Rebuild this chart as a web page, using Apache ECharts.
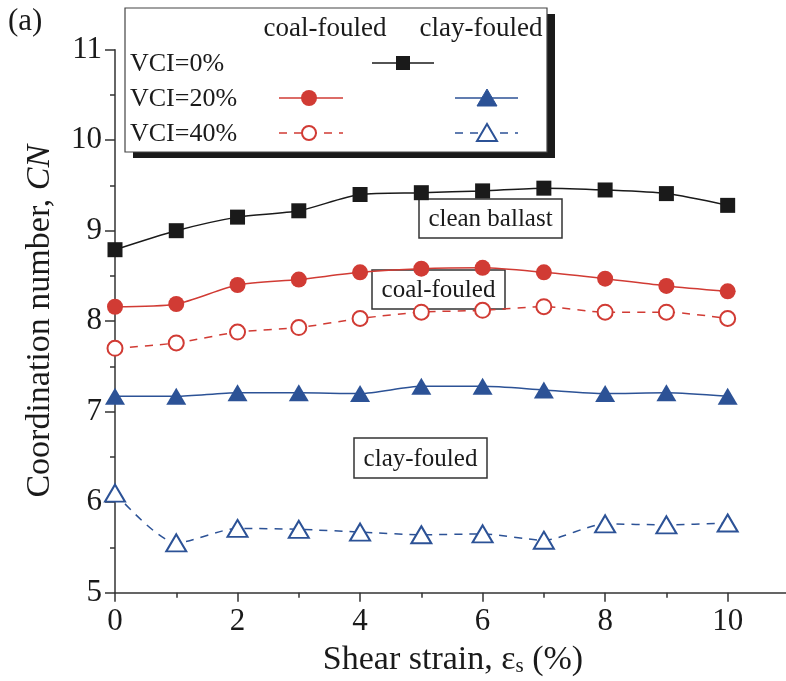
<!DOCTYPE html>
<html>
<head>
<meta charset="utf-8">
<script src="https://cdn.jsdelivr.net/npm/echarts@6/dist/echarts.min.js"></script>
<style>
  html, body { margin: 0; padding: 0; background: #fff; }
  #chart { width: 786px; height: 681px; }
</style>
</head>
<body>
<div id="chart"></div>
<script>
// Shear strain (%) at which coordination number was sampled
const strain = [0, 1, 2, 3, 4, 5, 6, 7, 8, 9, 10];

// Coordination number, CN
const cleanBallast = [8.79, 9.00, 9.15, 9.22, 9.40, 9.42, 9.44, 9.47, 9.45, 9.41, 9.28];
const coalVci20   = [8.16, 8.19, 8.40, 8.46, 8.54, 8.58, 8.59, 8.54, 8.47, 8.39, 8.33];
const coalVci40   = [7.70, 7.76, 7.88, 7.93, 8.03, 8.10, 8.12, 8.16, 8.10, 8.10, 8.03];
const clayVci20   = [7.17, 7.17, 7.21, 7.21, 7.20, 7.28, 7.28, 7.24, 7.20, 7.21, 7.17];
const clayVci40   = [6.10, 5.55, 5.71, 5.70, 5.67, 5.64, 5.65, 5.58, 5.76, 5.75, 5.77];

// Legend / annotation texts
const columnHeads = ['coal-fouled', 'clay-fouled'];
const rowLabels = ['VCI=0%', 'VCI=20%', 'VCI=40%'];
const boxLabels = ['clean ballast', 'coal-fouled', 'clay-fouled'];

const SERIF = '"Liberation Serif", "Times New Roman", serif';
const INK = '#1a1a1a';
const AXIS = '#333';
const RED = '#d13b34';
const BLUE = '#2c5296';
const SMOOTH = 0.25;

const pairs = vals => strain.map((s, i) => [s, vals[i]]);

const chart = echarts.init(document.getElementById('chart'), null, { renderer: 'canvas' });

function labelBox(cx, cy, w, h, text) {
  return {
    type: 'group', z: 1,
    children: [
      { type: 'rect', shape: { x: cx - w / 2, y: cy - h / 2, width: w, height: h },
        style: { fill: '#fff', stroke: AXIS, lineWidth: 1.5 } },
      { type: 'text', x: cx, y: cy + 1,
        style: { text, font: '25px ' + SERIF, fill: INK, align: 'center', verticalAlign: 'middle' } }
    ]
  };
}

function legendLine(x1, x2, y, color, dashed) {
  return { type: 'line', shape: { x1, y1: y, x2, y2: y },
    style: { stroke: color, lineWidth: 1.5, lineDash: dashed ? [8, 7] : null } };
}

function tri(cx, cy, filled, color) {
  return { type: 'polygon', shape: { points: [[cx, cy - 9], [cx - 10, cy + 8], [cx + 10, cy + 8]] },
    style: { fill: filled ? color : '#fff', stroke: color, lineWidth: filled ? 1 : 2 } };
}

const legendGroup = {
  type: 'group', z: 100,
  children: [
    { type: 'rect', shape: { x: 133, y: 14, width: 422, height: 144 }, style: { fill: INK } },
    { type: 'rect', shape: { x: 125, y: 8, width: 422, height: 144 },
      style: { fill: '#fff', stroke: '#444', lineWidth: 1.2 } },
    { type: 'text', x: 325, y: 29, style: { text: columnHeads[0], font: '27px ' + SERIF, fill: INK, align: 'center', verticalAlign: 'middle' } },
    { type: 'text', x: 481, y: 29, style: { text: columnHeads[1], font: '27px ' + SERIF, fill: INK, align: 'center', verticalAlign: 'middle' } },
    { type: 'text', x: 130, y: 64, style: { text: rowLabels[0], font: '26px ' + SERIF, fill: INK, align: 'left', verticalAlign: 'middle' } },
    { type: 'text', x: 130, y: 99, style: { text: rowLabels[1], font: '26px ' + SERIF, fill: INK, align: 'left', verticalAlign: 'middle' } },
    { type: 'text', x: 130, y: 134, style: { text: rowLabels[2], font: '26px ' + SERIF, fill: INK, align: 'left', verticalAlign: 'middle' } },
    // clean ballast
    legendLine(372, 434, 63, INK, false),
    { type: 'rect', shape: { x: 396, y: 56, width: 14, height: 14 }, style: { fill: INK } },
    // coal VCI=20%
    legendLine(279, 343, 98, RED, false),
    { type: 'circle', shape: { cx: 309, cy: 98, r: 8 }, style: { fill: RED } },
    // clay VCI=20%
    legendLine(455, 518, 98, BLUE, false),
    tri(487, 98, true, BLUE),
    // coal VCI=40%
    legendLine(279, 343, 133, RED, true),
    { type: 'circle', shape: { cx: 309, cy: 133, r: 7 }, style: { fill: '#fff', stroke: RED, lineWidth: 2 } },
    // clay VCI=40%
    legendLine(455, 518, 133, BLUE, true),
    tri(487, 133, false, BLUE)
  ]
};

const option = {
  animation: false,
  backgroundColor: '#fff',
  // the x axis runs on past 10 and off the right edge of the canvas
  grid: { left: 115, top: 49.7, height: 543, width: 735.2, containLabel: false, outerBoundsMode: 'none' },
  xAxis: {
    type: 'value', min: 0, max: 12, interval: 2,
    axisLine: { show: true, lineStyle: { color: AXIS, width: 1.5 } },
    axisTick: { show: true, inside: false, length: 9, lineStyle: { color: AXIS, width: 1.5 } },
    minorTick: { show: true, splitNumber: 2, length: 5, lineStyle: { color: AXIS, width: 1.5 } },
    splitLine: { show: false },
    axisLabel: { margin: 14, fontFamily: SERIF, fontSize: 31, color: INK }
  },
  yAxis: {
    type: 'value', min: 5, max: 11, interval: 1,
    axisLine: { show: true, lineStyle: { color: AXIS, width: 1.5 } },
    axisTick: { show: true, inside: false, length: 10, lineStyle: { color: AXIS, width: 1.5 } },
    minorTick: { show: true, splitNumber: 2, length: 5, lineStyle: { color: AXIS, width: 1.5 } },
    splitLine: { show: false },
    axisLabel: { margin: 13, fontFamily: SERIF, fontSize: 31, color: INK },
    name: '{n|Coordination number, }{i|CN}',
    nameLocation: 'middle',
    nameGap: 58,
    nameTextStyle: {
      rich: {
        n: { fontFamily: SERIF, fontSize: 34, color: INK },
        i: { fontFamily: SERIF, fontSize: 34, color: INK, fontStyle: 'italic' }
      }
    }
  },
  series: [
    { name: 'clean ballast', type: 'line', data: pairs(cleanBallast), smooth: SMOOTH,
      symbol: 'rect', symbolSize: 15,
      lineStyle: { color: INK, width: 1.5 }, itemStyle: { color: INK } },
    { name: 'coal-fouled VCI=20%', type: 'line', data: pairs(coalVci20), smooth: SMOOTH,
      symbol: 'circle', symbolSize: 16,
      lineStyle: { color: RED, width: 1.5 }, itemStyle: { color: RED } },
    { name: 'coal-fouled VCI=40%', type: 'line', data: pairs(coalVci40), smooth: SMOOTH,
      symbol: 'emptyCircle', symbolSize: 15,
      lineStyle: { color: RED, width: 1.5, type: [8, 7] },
      itemStyle: { color: RED, borderColor: RED, borderWidth: 2 } },
    { name: 'clay-fouled VCI=20%', type: 'line', data: pairs(clayVci20), smooth: SMOOTH,
      symbol: 'triangle', symbolSize: [20, 17],
      lineStyle: { color: BLUE, width: 1.5 }, itemStyle: { color: BLUE } },
    { name: 'clay-fouled VCI=40%', type: 'line', data: pairs(clayVci40), smooth: SMOOTH,
      symbol: 'emptyTriangle', symbolSize: [20, 17],
      lineStyle: { color: BLUE, width: 1.5, type: [8, 7] },
      itemStyle: { color: BLUE, borderColor: BLUE, borderWidth: 2 } }
  ],
  graphic: [
    { type: 'text', x: 8, y: 22, z: 100,
      style: { text: '(a)', font: '31px ' + SERIF, fill: INK, align: 'left', verticalAlign: 'middle' } },
    { type: 'text', x: 453, y: 660, z: 100,
      style: {
        text: '{n|Shear strain, ε}{s|s}{n| (%)}',
        align: 'center', verticalAlign: 'middle',
        rich: {
          n: { fontFamily: SERIF, fontSize: 34, fill: INK },
          s: { fontFamily: SERIF, fontSize: 21, fill: INK, verticalAlign: 'bottom' }
        }
      } },
    labelBox(490.5, 218.5, 143, 39, boxLabels[0]),
    labelBox(438.5, 289.5, 133, 39, boxLabels[1]),
    labelBox(420.5, 458, 133, 40, boxLabels[2]),
    legendGroup
  ]
};

chart.setOption(option);
</script>
</body>
</html>
